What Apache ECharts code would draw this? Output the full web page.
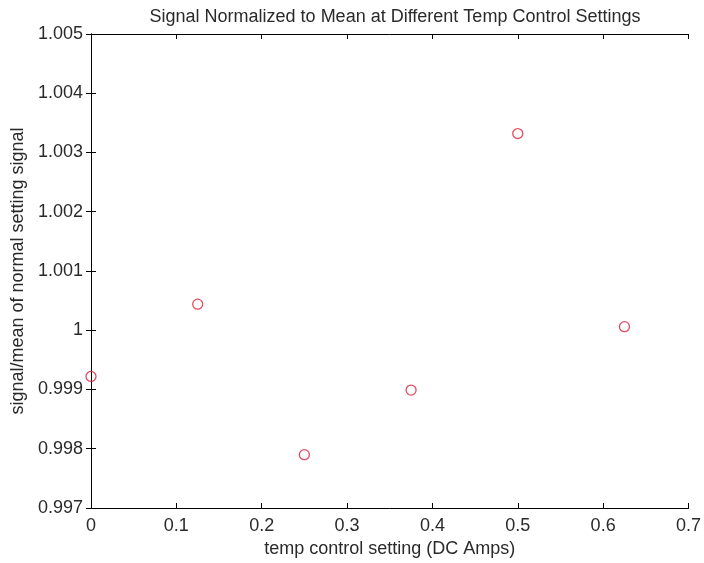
<!DOCTYPE html>
<html>
<head>
<meta charset="utf-8">
<script src="https://cdn.jsdelivr.net/npm/echarts@6/dist/echarts.min.js"></script>
<style>
  html, body { margin: 0; padding: 0; background: #fff; }
  #main { width: 704px; height: 563px; }
</style>
</head>
<body>
<div id="main"></div>
<script>
// temp control setting (DC Amps)
var xValues = [0, 0.125, 0.25, 0.375, 0.5, 0.625];
// signal / mean of normal setting signal
var yValues = [0.99922, 1.00044, 0.99790, 0.99899, 1.00332, 1.00006];

var points = xValues.map(function (x, i) { return [x, yValues[i]]; });

var font = 'Liberation Sans';
var fs = 18;
var txt = '#2a2a2a';

function yFmt(v) {
    var s = (Math.round(v * 1000) / 1000).toFixed(3);
    if (s === '1.000') return '1';
    return s;
}

var option = {
    animation: false,
    backgroundColor: '#fff',
    title: {
        text: 'Signal Normalized to Mean at Different Temp Control Settings',
        left: 390,
        textAlign: 'center',
        top: 3,
        textStyle: { fontFamily: font, fontSize: fs, fontWeight: 'normal', color: txt }
    },
    grid: { left: 91, right: 11, top: 34, bottom: 55 },
    xAxis: [{
        type: 'value',
        min: 0, max: 0.7, interval: 0.1,
        name: 'temp control setting (DC Amps)',
        nameLocation: 'middle',
        nameGap: 32,
        nameTextStyle: { fontFamily: font, fontSize: fs, color: txt },
        axisLine: { lineStyle: { color: '#000', width: 1 } },
        axisTick: { inside: true, length: 5, lineStyle: { color: '#000' } },
        axisLabel: {
            fontFamily: font, fontSize: fs, color: txt, margin: 9,
            formatter: function (v) { return String(Math.round(v * 10) / 10); }
        },
        splitLine: { show: false }
    }, {
        type: 'value',
        position: 'top',
        min: 0, max: 0.7, interval: 0.1,
        axisLine: { lineStyle: { color: '#000', width: 1 } },
        axisTick: { inside: true, length: 5, lineStyle: { color: '#000' } },
        axisLabel: { show: false },
        splitLine: { show: false }
    }],
    yAxis: [{
        type: 'value',
        min: 0.997, max: 1.005, interval: 0.001,
        name: 'signal/mean of normal setting signal',
        nameLocation: 'middle',
        nameGap: 57,
        nameTextStyle: { fontFamily: font, fontSize: fs, color: txt },
        axisLine: { lineStyle: { color: '#000', width: 1 } },
        axisTick: { inside: true, length: 5, lineStyle: { color: '#000' } },
        axisLabel: { fontFamily: font, fontSize: fs, color: txt, margin: 8, formatter: yFmt },
        splitLine: { show: false }
    }, {
        type: 'value',
        position: 'right',
        min: 0.997, max: 1.005, interval: 0.001,
        axisLine: { lineStyle: { color: '#000', width: 1 } },
        axisTick: { inside: true, length: 5, lineStyle: { color: '#000' } },
        axisLabel: { show: false },
        splitLine: { show: false }
    }],
    series: [{
        type: 'scatter',
        xAxisIndex: 0,
        yAxisIndex: 0,
        data: points,
        symbol: 'circle',
        symbolSize: 10,
        itemStyle: { color: 'rgba(255,255,255,0)', borderColor: '#d8203a', borderWidth: 1.3 }
    }]
};

var myChart = echarts.init(document.getElementById('main'));
myChart.setOption(option);
</script>
</body>
</html>
